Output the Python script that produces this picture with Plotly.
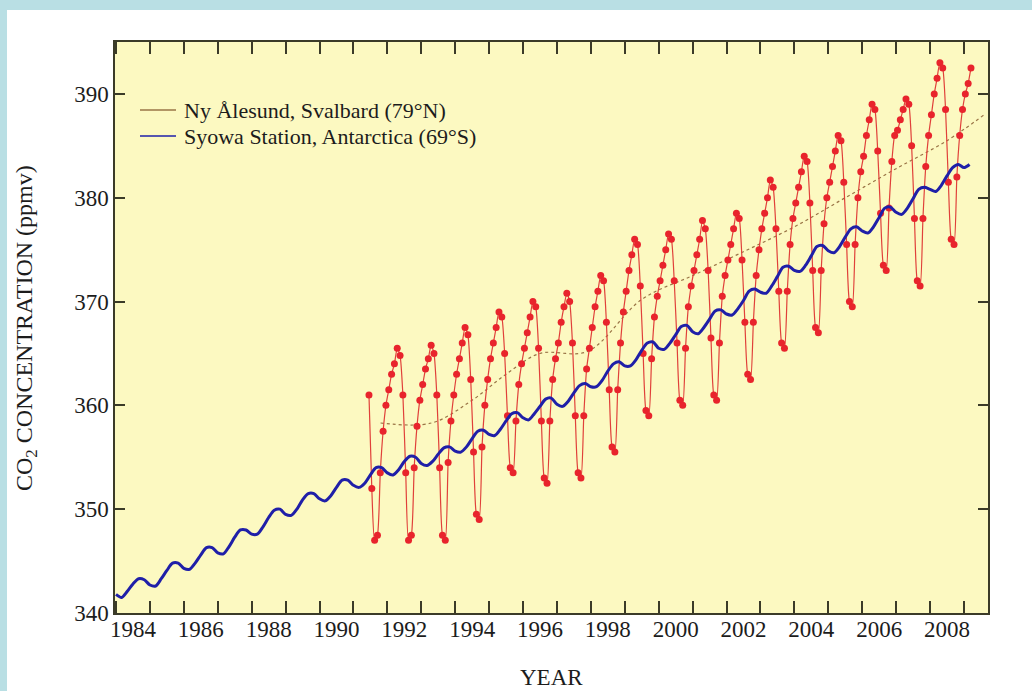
import plotly.graph_objects as go

# ---------------- data ----------------
# Ny Alesund (79N) monthly CO2, ppmv (1991 starts in June, 2009 ends in March)
ny_1991 = [361.0, 352.0, 347.0, 347.5, 353.5, 357.5, 360.0]
ny_1992 = [361.5, 363.0, 364.0, 365.5, 364.8, 361.0, 353.5, 347.0, 347.5, 354.0, 358.0, 360.5]
ny_1993 = [362.0, 363.5, 364.5, 365.8, 365.0, 361.0, 354.0, 347.5, 347.0, 354.5, 358.5, 361.0]
ny_1994 = [363.0, 364.5, 366.0, 367.5, 366.8, 362.5, 355.5, 349.5, 349.0, 356.0, 360.0, 362.5]
ny_1995 = [364.5, 366.0, 367.5, 369.0, 368.5, 365.0, 359.0, 354.0, 353.5, 358.5, 362.0, 364.0]
ny_1996 = [365.5, 367.0, 368.5, 370.0, 369.5, 365.5, 358.5, 353.0, 352.5, 358.5, 362.5, 364.5]
ny_1997 = [366.0, 368.0, 369.5, 370.8, 370.0, 366.0, 359.0, 353.5, 353.0, 359.0, 363.5, 365.5]
ny_1998 = [367.5, 369.5, 371.0, 372.5, 372.0, 368.0, 361.5, 356.0, 355.5, 361.5, 366.0, 369.0]
ny_1999 = [371.0, 373.0, 374.5, 376.0, 375.5, 371.5, 365.0, 359.5, 359.0, 364.5, 368.5, 370.5]
ny_2000 = [372.0, 373.5, 375.0, 376.5, 376.0, 372.0, 366.0, 360.5, 360.0, 365.5, 369.5, 371.5]
ny_2001 = [373.0, 374.5, 376.0, 377.8, 377.0, 373.0, 366.5, 361.0, 360.5, 366.0, 370.5, 372.5]
ny_2002 = [374.0, 375.5, 377.0, 378.5, 378.0, 374.0, 368.0, 363.0, 362.5, 368.0, 372.5, 375.0]
ny_2003 = [377.0, 378.5, 380.0, 381.7, 381.0, 377.0, 371.0, 366.0, 365.5, 371.0, 375.5, 378.0]
ny_2004 = [379.5, 381.0, 382.5, 384.0, 383.5, 379.5, 373.0, 367.5, 367.0, 373.0, 377.5, 380.0]
ny_2005 = [381.5, 383.0, 384.5, 386.0, 385.5, 381.5, 375.5, 370.0, 369.5, 375.5, 380.0, 382.5]
ny_2006 = [384.0, 386.0, 387.5, 389.0, 388.5, 384.5, 378.5, 373.5, 373.0, 379.0, 383.5, 386.0]
ny_2007 = [386.5, 387.5, 388.5, 389.5, 389.0, 385.0, 378.0, 372.0, 371.5, 378.0, 383.0, 386.0]
ny_2008 = [388.0, 390.0, 391.5, 393.0, 392.5, 388.5, 381.5, 376.0, 375.5, 382.0, 386.0, 388.5]
ny_2009 = [390.0, 391.0, 392.5]
ny_first_month = {1991: 6}

# Ny Alesund de-seasonalised trend (dotted)
trend_years = [1991.8, 1993.3, 1994.5, 1995.5, 1996.5, 1997.9, 1999.5, 2001.0,
               2002.5, 2004.0, 2005.5, 2007.0, 2008.5, 2009.6]
trend_values = [358.3, 358.3, 360.5, 363.0, 365.0, 365.2, 370.2, 372.5,
                374.8, 377.2, 380.0, 382.8, 385.5, 388.0]

# Syowa Station (69S) bi-monthly CO2 (Jan, Mar, May, Jul, Sep, Nov)
sy_1984 = [341.8, 341.5, 342.1, 342.8, 343.3, 343.2]
sy_1985 = [342.7, 342.6, 343.3, 344.1, 344.8, 344.8]
sy_1986 = [344.3, 344.2, 344.8, 345.6, 346.3, 346.3]
sy_1987 = [345.8, 345.7, 346.4, 347.3, 348.0, 348.0]
sy_1988 = [347.6, 347.6, 348.3, 349.2, 349.9, 350.0]
sy_1989 = [349.5, 349.4, 350.0, 350.9, 351.5, 351.5]
sy_1990 = [351.0, 350.8, 351.3, 352.1, 352.8, 352.8]
sy_1991 = [352.3, 352.1, 352.5, 353.3, 354.0, 354.0]
sy_1992 = [353.5, 353.3, 353.8, 354.6, 355.1, 355.0]
sy_1993 = [354.4, 354.2, 354.6, 355.3, 355.9, 356.0]
sy_1994 = [355.6, 355.5, 356.0, 356.8, 357.5, 357.6]
sy_1995 = [357.2, 357.1, 357.7, 358.5, 359.2, 359.3]
sy_1996 = [358.8, 358.6, 359.2, 359.9, 360.6, 360.7]
sy_1997 = [360.1, 359.9, 360.4, 361.2, 361.9, 362.1]
sy_1998 = [361.8, 361.8, 362.4, 363.3, 364.0, 364.2]
sy_1999 = [363.8, 363.8, 364.4, 365.3, 366.0, 366.1]
sy_2000 = [365.5, 365.4, 366.0, 366.8, 367.6, 367.7]
sy_2001 = [367.1, 366.9, 367.5, 368.3, 369.1, 369.2]
sy_2002 = [368.8, 368.7, 369.3, 370.1, 371.0, 371.2]
sy_2003 = [370.9, 370.8, 371.5, 372.4, 373.3, 373.4]
sy_2004 = [373.0, 372.9, 373.5, 374.4, 375.3, 375.4]
sy_2005 = [374.9, 374.7, 375.3, 376.2, 377.0, 377.2]
sy_2006 = [376.8, 376.6, 377.2, 378.1, 379.0, 379.1]
sy_2007 = [378.6, 378.4, 379.0, 379.9, 380.8, 381.0]
sy_2008 = [380.8, 380.6, 381.2, 382.1, 382.9, 383.2]
sy_2009 = [382.9, 383.2]
sy_months = [1, 3, 5, 7, 9, 11]

x_label_years = [1984, 1986, 1988, 1990, 1992, 1994, 1996, 1998, 2000, 2002, 2004, 2006, 2008]
x_tick_labels = [str(y) for y in x_label_years]
y_ticks = [340, 350, 360, 370, 380, 390]

legend_names = ["Ny Ålesund, Svalbard (79°N)", "Syowa Station, Antarctica (69°S)"]

# ---------------- assemble ----------------
ny_years = {1991: ny_1991, 1992: ny_1992, 1993: ny_1993, 1994: ny_1994, 1995: ny_1995,
            1996: ny_1996, 1997: ny_1997, 1998: ny_1998, 1999: ny_1999, 2000: ny_2000,
            2001: ny_2001, 2002: ny_2002, 2003: ny_2003, 2004: ny_2004, 2005: ny_2005,
            2006: ny_2006, 2007: ny_2007, 2008: ny_2008, 2009: ny_2009}
ny_x, ny_y = [], []
for yr, vals in ny_years.items():
    m0 = ny_first_month.get(yr, 1)
    for i, v in enumerate(vals):
        ny_x.append(yr + (m0 + i - 0.5) / 12.0)
        ny_y.append(v)

sy_years = {1984: sy_1984, 1985: sy_1985, 1986: sy_1986, 1987: sy_1987, 1988: sy_1988,
            1989: sy_1989, 1990: sy_1990, 1991: sy_1991, 1992: sy_1992, 1993: sy_1993,
            1994: sy_1994, 1995: sy_1995, 1996: sy_1996, 1997: sy_1997, 1998: sy_1998,
            1999: sy_1999, 2000: sy_2000, 2001: sy_2001, 2002: sy_2002, 2003: sy_2003,
            2004: sy_2004, 2005: sy_2005, 2006: sy_2006, 2007: sy_2007, 2008: sy_2008,
            2009: sy_2009}
sy_x, sy_y = [], []
for yr, vals in sy_years.items():
    for m, v in zip(sy_months, vals):
        sy_x.append(yr + (m - 1) / 12.0)
        sy_y.append(v)

# ---------------- figure ----------------
FONT = "Liberation Serif, Times New Roman, serif"
TXT = "#1c1c1c"
AX = "#3b3b28"
RED = "#e8242c"
BROWN = "#9a7446"
BLUE = "#1f1fa8"

fig = go.Figure()

fig.add_trace(go.Scatter(x=trend_years, y=trend_values, mode="lines",
                         line=dict(color=BROWN, width=1.2, dash="dot", shape="spline"),
                         showlegend=False, hoverinfo="skip"))
fig.add_trace(go.Scatter(x=ny_x, y=ny_y, mode="lines+markers", name=legend_names[0],
                         line=dict(color="#e0403a", width=1.2, shape="spline", smoothing=0.6),
                         marker=dict(color=RED, size=7),
                         showlegend=False))
fig.add_trace(go.Scatter(x=sy_x, y=sy_y, mode="lines", name=legend_names[1],
                         line=dict(color=BLUE, width=3, shape="spline", smoothing=0.8),
                         showlegend=False))

# labels axis (labels centred in mid-year)
fig.add_trace(go.Scatter(x=[None], y=[None], xaxis="x2", showlegend=False))

X_RANGE = [1983.97, 2009.71]
fig.update_layout(
    width=1032, height=691,
    margin=dict(l=115, r=44, t=42, b=78, autoexpand=False),
    paper_bgcolor="white",
    plot_bgcolor="#fcf9c1",
    font=dict(family=FONT, size=23, color=TXT),
    xaxis=dict(range=X_RANGE, dtick=1, tick0=1984, ticks="inside", ticklen=12,
               tickwidth=1.5, tickcolor=AX, showticklabels=False,
               showline=True, linecolor=AX, linewidth=1.5, mirror="ticks",
               showgrid=False, zeroline=False),
    xaxis2=dict(range=X_RANGE, overlaying="x", anchor="y", side="bottom",
                tickmode="array", tickvals=[y + 0.5 for y in x_label_years],
                ticktext=x_tick_labels, ticks="", showline=False, showgrid=False,
                zeroline=False, tickfont=dict(family=FONT, size=23, color=TXT)),
    yaxis=dict(range=[340, 395], tickmode="array", tickvals=y_ticks, ticks="inside",
               ticklen=10, tickwidth=1.5, tickcolor=AX,
               showline=True, linecolor=AX, linewidth=1.5, mirror="ticks",
               showgrid=False, zeroline=False,
               tickfont=dict(family=FONT, size=23, color=TXT)),
    showlegend=False,
)

W, L, H, B = 873.0, 115.0, 571.0, 613.0
def px(x):
    return (x - L) / W
def py(y):
    return (B - y) / H

# legend (drawn as keys + text)
legend_colors = [BROWN, BLUE]
legend_rows = [110, 136]
for name, col, ry in zip(legend_names, legend_colors, legend_rows):
    fig.add_shape(type="line", xref="paper", yref="paper", x0=px(140), x1=px(176),
                  y0=py(ry), y1=py(ry), line=dict(color=col, width=1.6))
    fig.add_annotation(x=px(182), y=py(ry), xref="paper", yref="paper", showarrow=False,
                       xanchor="left", yanchor="middle", text=name,
                       font=dict(family=FONT, size=22, color=TXT))

fig.add_annotation(x=px(551), y=py(677), xref="paper", yref="paper", showarrow=False,
                   xanchor="center", yanchor="middle",
                   text="YEAR", font=dict(family=FONT, size=23, color=TXT))
fig.add_annotation(x=px(26), y=py(328), xref="paper", yref="paper", showarrow=False,
                   xanchor="center", yanchor="middle",
                   textangle=-90, text="CO<sub>2</sub> CONCENTRATION (ppmv)",
                   font=dict(family=FONT, size=24, color=TXT))

# light blue page frame
fig.add_shape(type="rect", xref="paper", yref="paper", x0=px(0), x1=px(1032),
              y0=py(10), y1=py(0), fillcolor="#b9dfe4", line_width=0, layer="below")
fig.add_shape(type="rect", xref="paper", yref="paper", x0=px(0), x1=px(7),
              y0=py(691), y1=py(0), fillcolor="#b9dfe4", line_width=0, layer="below")

fig.write_html("out.html", config={"displayModeBar": False},
               post_script="document.body.style.margin='0';document.body.style.overflow='hidden';")
